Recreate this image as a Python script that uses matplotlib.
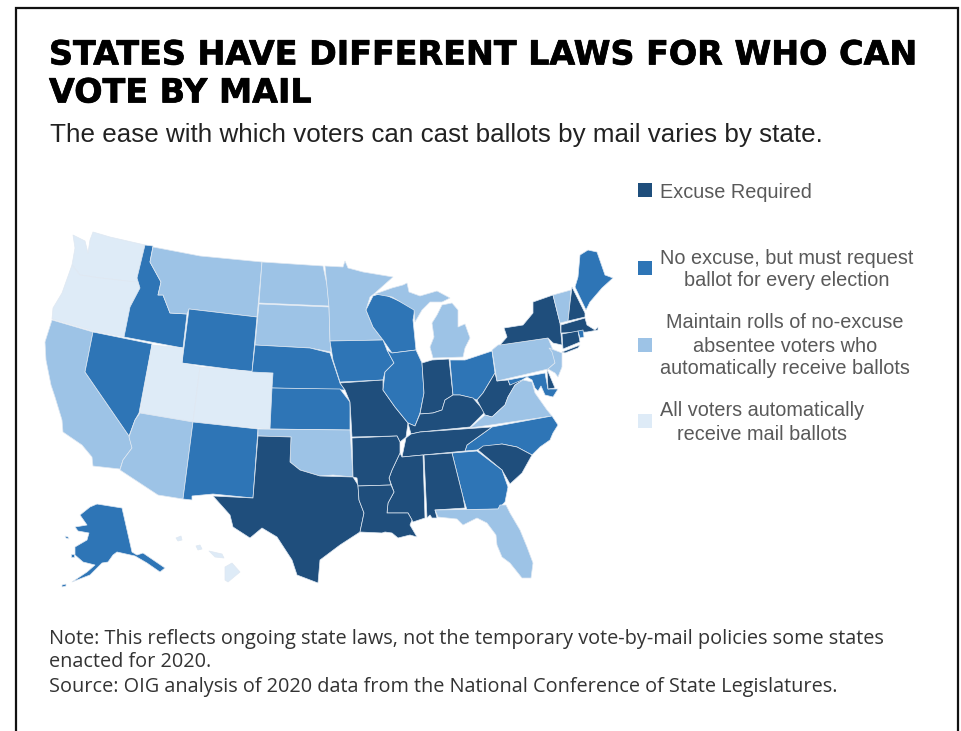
# -*- coding: utf-8 -*-
import matplotlib
matplotlib.use('Agg')
import matplotlib.pyplot as plt
import matplotlib.patheffects as pe

#標題文字
title_lines = ['STATES HAVE DIFFERENT LAWS FOR WHO CAN', 'VOTE BY MAIL']
subtitle = 'The ease with which voters can cast ballots by mail varies by state.'
notes = ['Note: This reflects ongoing state laws, not the temporary vote-by-mail policies some states',
         'enacted for 2020.',
         'Source: OIG analysis of 2020 data from the National Conference of State Legislatures.']

#圖例
legend_labels = [['Excuse Required'],
                 ['No excuse, but must request', 'ballot for every election'],
                 ['Maintain rolls of no-excuse', 'absentee voters who', 'automatically receive ballots'],
                 ['All voters automatically', 'receive mail ballots']]
colors = ['#1f4e7c', '#2e75b6', '#9dc3e6', '#deebf7']

#各州類別 0:需要理由 1:每次申請 2:名冊 3:全部郵寄
excuse_required = ['TX', 'MO', 'AR', 'LA', 'MS', 'AL', 'TN', 'KY', 'IN', 'WV', 'SC', 'NY', 'LI', 'NH', 'MA', 'CT', 'DE']
must_request = ['ID', 'NV', 'WY', 'NE', 'KS', 'NM', 'IA', 'WI', 'IL', 'OH', 'GA', 'NC', 'ME', 'MD', 'RI', 'AK', 'AK2', 'AK3', 'AK4']
rolls = ['CA', 'AZ', 'MT', 'ND', 'SD', 'MN', 'OK', 'MI', 'MIU', 'PA', 'NJ', 'VA', 'VT', 'FL']
all_mail = ['WA', 'OR', 'UT', 'CO', 'HI', 'HI2', 'HI3', 'HI4']

#州界
states = {
 'WA': [(93,232),(110,237),(145,245),(137,278),(138,283),(118,280),(100,278),(80,275),(72,265),(75,248),(73,235),(85,241),(88,253),(90,240)],
 'OR': [(72,265),(80,275),(100,278),(118,280),(137,282),(140,288),(130,307),(124,337),(93,331),(52,319),(53,308),(62,293)],
 'CA': [(52,320),(93,332),(85,372),(129,436),(132,448),(123,460),(120,469),(93,466),(92,457),(82,445),(63,432),(62,420),(55,397),(51,385),(46,360),(45,342)],
 'NV': [(93,332),(152,344),(139,413),(135,420),(129,436),(85,372)],
 'ID': [(145,245),(153,246),(150,262),(161,282),(158,295),(163,295),(170,313),(187,314),(183,348),(124,337),(130,307),(140,288),(137,278)],
 'MT': [(153,247),(200,256),(262,262),(257,317),(189,309),(187,314),(170,313),(163,295),(158,295),(161,282),(150,262)],
 'WY': [(189,309),(257,317),(252,372),(182,363)],
 'UT': [(152,345),(183,348),(182,363),(200,367),(193,422),(140,413)],
 'CO': [(200,367),(273,373),(270,429),(193,422)],
 'AZ': [(140,413),(193,422),(183,499),(158,495),(120,470),(123,460),(132,448),(129,437),(135,420)],
 'NM': [(193,422),(258,429),(253,498),(213,494),(192,496),(192,500),(183,499)],
 'ND': [(262,262),(323,266),(327,285),(329,306),(259,303)],
 'SD': [(259,304),(329,307),(330,340),(331,352),(310,348),(255,345)],
 'NE': [(255,345),(310,348),(330,353),(333,362),(340,383),(345,390),(272,388),(273,373),(252,372)],
 'KS': [(272,388),(340,389),(350,402),(350,430),(270,429)],
 'OK': [(258,429),(350,430),(353,477),(333,475),(320,476),(300,470),(290,462),(291,437),(258,436)],
 'TX': [(258,436),(291,437),(290,462),(300,470),(320,476),(353,477),(358,485),(359,500),(364,513),(360,532),(340,545),(320,560),(318,583),(297,575),(292,560),(277,537),(262,528),(250,538),(233,527),(230,515),(213,496),(253,498)],
 'MN': [(325,266),(343,267),(345,261),(348,268),(363,272),(393,277),(375,293),(370,297),(366,310),(373,327),(383,340),(330,341),(329,307)],
 'WI': [(373,296),(382,293),(390,297),(415,308),(413,320),(416,350),(392,353),(383,340),(373,327),(366,310)],
 'IA': [(330,341),(383,340),(387,350),(394,363),(385,372),(383,380),(340,382),(333,360)],
 'MO': [(340,383),(383,380),(383,390),(395,407),(408,423),(406,437),(400,442),(397,436),(352,437),(350,402),(345,390)],
 'IL': [(392,353),(416,350),(422,363),(424,393),(420,413),(415,426),(408,423),(395,407),(383,390),(385,372),(394,363),(387,350)],
 'IN': [(422,363),(432,360),(449,359),(453,395),(445,400),(442,410),(433,413),(420,414),(424,393)],
 'OH': [(450,360),(465,360),(492,351),(495,373),(483,393),(477,400),(468,397),(460,395),(453,395)],
 'MI': [(433,358),(430,347),(434,337),(432,323),(437,315),(442,305),(452,303),(458,310),(458,327),(465,324),(470,338),(465,348),(463,357)],
 'MIU': [(375,294),(392,288),(403,285),(407,283),(409,292),(420,296),(437,291),(450,298),(442,302),(430,302),(422,310),(415,322),(414,310),(392,297)],
 'KY': [(420,414),(433,413),(442,410),(445,400),(453,395),(460,395),(473,398),(485,412),(470,427),(420,432),(411,434),(408,423),(415,426)],
 'WV': [(477,400),(483,393),(495,373),(497,381),(508,380),(510,385),(517,380),(523,380),(515,385),(508,397),(505,405),(492,417),(485,415)],
 'PA': [(492,350),(498,345),(548,338),(553,350),(555,363),(548,369),(497,381)],
 'NY': [(500,345),(507,337),(504,328),(523,325),(533,313),(533,302),(553,295),(560,323),(562,345),(553,343),(548,338)],
 'LI': [(562,352),(580,345),(578,348),(565,353)],
 'VT': [(553,295),(571,290),(570,303),(568,321),(560,323)],
 'NH': [(572,287),(585,313),(585,317),(568,321),(570,303)],
 'ME': [(578,277),(580,255),(588,250),(597,252),(605,275),(613,278),(602,288),(590,302),(586,310),(575,287)],
 'MA': [(561,325),(585,318),(587,325),(595,330),(598,327),(598,330),(587,332),(561,333)],
 'CT': [(562,334),(578,331),(580,342),(563,349)],
 'RI': [(578,331),(583,330),(584,337),(580,338)],
 'NJ': [(549,348),(562,353),(562,367),(558,377),(555,373),(548,369),(555,363),(552,352)],
 'MD': [(508,380),(545,373),(548,389),(558,389),(553,397),(545,395),(541,386),(538,391),(535,388),(532,380),(527,377),(522,380),(510,385)],
 'DE': [(547,369),(555,388),(548,389)],
 'VA': [(470,428),(485,415),(492,417),(505,405),(508,397),(515,385),(523,380),(532,382),(535,393),(547,410),(552,416)],
 'NC': [(552,416),(558,425),(553,433),(550,440),(540,447),(532,455),(517,447),(502,444),(483,447),(477,450),(465,451),(467,445),(492,427)],
 'TN': [(492,427),(467,445),(465,451),(402,457),(406,438),(411,434),(420,432)],
 'SC': [(478,450),(483,446),(502,444),(517,447),(532,455),(522,473),(510,484),(502,470)],
 'GA': [(452,453),(477,451),(502,470),(508,487),(505,502),(498,509),(467,510),(463,497)],
 'AL': [(424,455),(452,453),(463,497),(465,508),(435,510),(437,518),(432,518),(430,515),(427,518)],
 'MS': [(402,457),(423,455),(425,518),(413,522),(408,513),(387,513),(388,503),(394,492),(389,478),(392,470),(400,453)],
 'AR': [(352,438),(397,436),(400,442),(400,453),(392,470),(389,478),(391,485),(358,486),(357,478),(353,477)],
 'LA': [(358,486),(391,485),(394,492),(388,503),(387,513),(408,513),(412,520),(410,525),(417,537),(410,535),(398,538),(392,533),(385,532),(382,533),(360,532),(364,513),(359,500)],
 'FL': [(435,510),(498,509),(500,505),(506,505),(510,513),(520,530),(527,547),(533,563),(531,578),(522,578),(510,563),(502,557),(497,545),(496,535),(487,523),(477,518),(463,525),(457,519),(438,517)],
 'AK': [(80,515),(90,507),(97,504),(122,508),(132,552),(137,555),(143,553),(165,568),(160,572),(147,563),(135,556),(117,552),(113,555),(108,562),(102,563),(98,567),(90,575),(72,582),(87,572),(95,565),(83,562),(75,555),(75,547),(87,540),(89,533),(78,531),(75,527),(87,525)],
 'AK2': [(65,536),(68,537),(69,539),(66,538)],
 'AK3': [(71,554),(74,554),(74,557),(71,557)],
 'AK4': [(62,585),(66,584),(66,586),(62,587)],
 'HI': [(225,567),(232,563),(240,572),(228,582),(225,580)],
 'HI2': [(176,538),(181,536),(182,540),(178,541)],
 'HI3': [(196,546),(200,545),(202,549),(198,550)],
 'HI4': [(209,551),(222,554),(224,558),(215,557)],
}

#依類別給顏色
state_color = {}
for k, group in enumerate([excuse_required, must_request, rolls, all_mail]):
    for name in group:
        state_color[name] = colors[k]

plt.rcParams['font.family'] = ['Liberation Sans', 'DejaVu Sans']
fig = plt.figure(figsize=(9.61, 7.31), dpi=100)
ax = fig.add_axes([0, 0, 1, 1])
ax.set_xlim(0, 961)
ax.set_ylim(731, 0)
ax.axis('off')

#外框
ax.plot([16, 16, 958, 958], [731, 8, 8, 731], color='#111111', lw=1.6, solid_joinstyle='miter')

#畫地圖
for name, pts in states.items():
    xs = [p[0] for p in pts]
    ys = [p[1] for p in pts]
    ax.fill(xs, ys, facecolor=state_color[name], edgecolor='#dfe8f2', lw=0.5, joinstyle='round')

#標題
title_y = [55, 93]
for line, y in zip(title_lines, title_y):
    t = ax.text(49, y, line, fontsize=24, fontweight='bold', color='black', va='center', ha='left',
                family='DejaVu Sans')
    t.set_path_effects([pe.withStroke(linewidth=0.5, foreground='black')])
ax.text(50, 135, subtitle, fontsize=18.7, color='#222222', va='center', ha='left')

#圖例
box_y = [190, 268, 345, 421]
line_y = [[192], [258, 280], [323, 346, 369], [411, 434]]
center_x = [736, 787, 785, 762]
for i in range(4):
    ax.scatter([645], [box_y[i]], s=100, marker='s', color=colors[i], linewidths=0)
    for line, y in zip(legend_labels[i], line_y[i]):
        ax.text(center_x[i], y, line, fontsize=14.3, color='#595959', va='center', ha='center')

#註解
note_y = [639, 662, 687]
for line, y in zip(notes, note_y):
    ax.text(49, y, line, fontsize=14.35, color='#333333', va='center', ha='left', family=['Open Sans', 'DejaVu Sans'])

plt.savefig('out.png', dpi=100)
plt.close()
